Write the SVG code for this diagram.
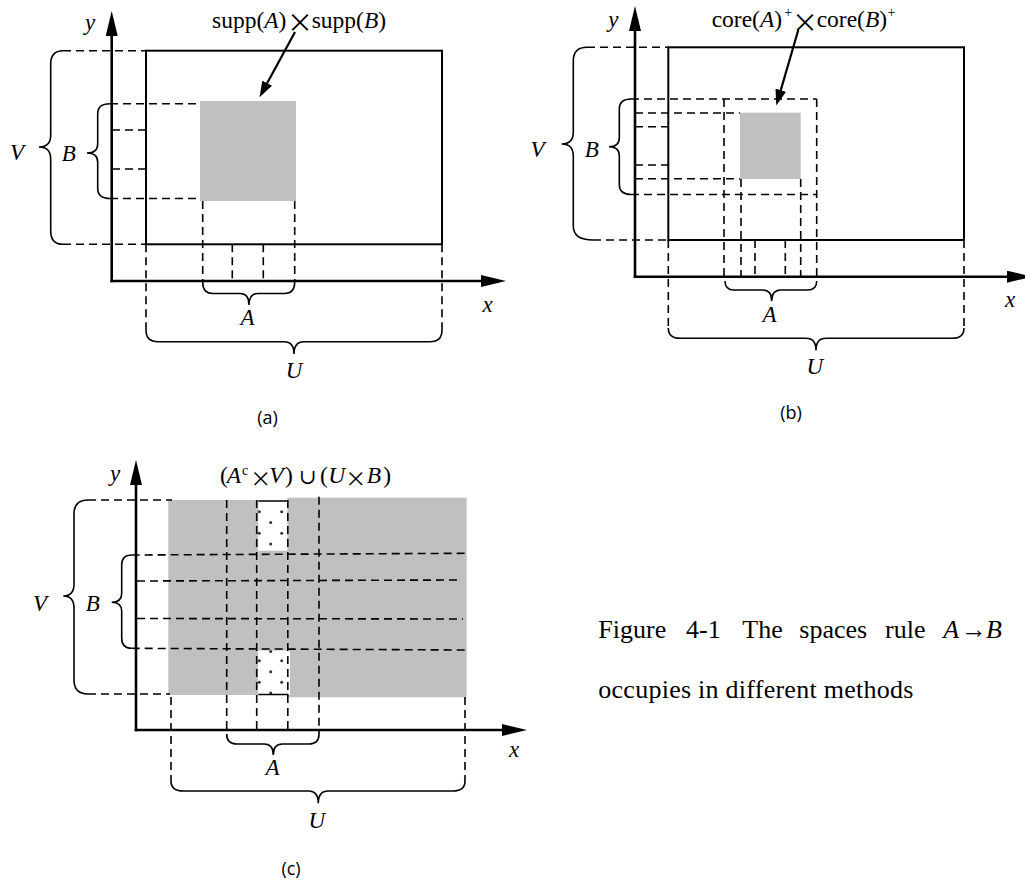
<svg xmlns="http://www.w3.org/2000/svg" width="1025" height="881" viewBox="0 0 1025 881">
<style>
.ax{stroke:#000;stroke-width:2.6;fill:none}
.bx{stroke:#000;stroke-width:2;fill:none}
.d{stroke:#000;stroke-width:1.6;fill:none;stroke-dasharray:8 5}
.br{stroke:#000;stroke-width:1.6;fill:none}
.sl{stroke:#000;stroke-width:1.6;fill:none}
.g{fill:#c0c0c0}
.w{fill:#fff}
.pt{stroke:#000;stroke-width:2.2;fill:none}
text{font-family:"Liberation Serif","Times New Roman",serif;fill:#000}
.l{font-size:23px;font-style:italic}
.t{font-size:23.5px}
.i{font-style:italic}
.sup{font-size:14px}
.mul{font-family:"Noto Sans CJK SC","Liberation Serif",sans-serif;font-size:26px}
.mul2{font-family:"Noto Sans CJK SC","Liberation Serif",sans-serif;font-size:21px}
.cup{font-family:"DejaVu Serif",serif;font-size:21px}
.sub{font-family:"Open Sans","Liberation Sans",sans-serif;font-size:18px}
.cap{font-size:26px}
.dot{fill:#333}
</style>
<defs>
<marker id="axh" viewBox="0 0 25 12" refX="1" refY="6" markerWidth="25" markerHeight="12" markerUnits="userSpaceOnUse" orient="auto"><path d="M0,0 L25,6 L0,12 z" fill="#000"/></marker>
<marker id="pth" viewBox="0 0 16 11" refX="1" refY="5.5" markerWidth="16" markerHeight="11" markerUnits="userSpaceOnUse" orient="auto"><path d="M0,0 L16,5.5 L0,11 z" fill="#000"/></marker>
</defs>
<rect width="1025" height="881" fill="#fff"/>

<g id="panel-a">
<rect class="g" x="200" y="101" width="96" height="100"/>
<rect class="bx" x="146" y="50.7" width="296" height="193.6"/>
<path class="d" d="M63,50.7 H146 M63,244.3 H146 M110,103.7 H200 M110,198.5 H200 M112,130 H146 M112,169 H146 M146,244.3 V330 M442,244.3 V330 M202.7,201 V282 M294.7,201 V282 M232.3,244.3 V281 M263.3,244.3 V281"/>
<path class="br" d="M63,50.7 Q50.7,50.7 50.7,64 L50.7,135 Q50.7,147 39,147 Q50.7,147 50.7,159 L50.7,231 Q50.7,244.3 63,244.3"/>
<path class="br" d="M110,103.7 Q97.7,103.7 97.7,113.7 L97.7,144 Q97.7,153 87,153 Q97.7,153 97.7,162 L97.7,188.5 Q97.7,198.5 110,198.5"/>
<path class="br" d="M202.7,282 Q202.7,293.5 212.7,293.5 L240,293.5 Q249,293.5 249,305 Q249,293.5 258,293.5 L284.7,293.5 Q294.7,293.5 294.7,282"/>
<path class="br" d="M146,330 Q146,341.7 158,341.7 L284,341.7 Q294,341.7 294,354 Q294,341.7 304,341.7 L430,341.7 Q442,341.7 442,330"/>
<path class="ax" d="M111.7,282.3 V35" marker-end="url(#axh)"/>
<path class="ax" d="M110.4,281 H482" marker-end="url(#axh)"/>
<path class="pt" d="M295,32 L266.7,84" marker-end="url(#pth)"/>
<text class="l" x="90" y="30" text-anchor="middle">y</text>
<text class="l" x="487.5" y="311.7" text-anchor="middle">x</text>
<text class="l" x="17" y="160" text-anchor="middle">V</text>
<text class="l" x="68.8" y="160.7" text-anchor="middle">B</text>
<text class="l" x="247.5" y="325" text-anchor="middle">A</text>
<text class="l" x="294" y="378" text-anchor="middle">U</text>
<text class="t" x="212" y="28">supp(<tspan class="i">A</tspan>)</text>
<text class="mul" x="300" y="32.4" text-anchor="middle">×</text>
<text class="t" x="311.7" y="28">supp(<tspan class="i">B</tspan>)</text>
<text class="sub" x="267.5" y="423.5" text-anchor="middle">(a)</text>
</g>

<g id="panel-b">
<rect class="g" x="740" y="112.7" width="60.7" height="66.3"/>
<rect class="bx" x="668.3" y="47.3" width="295.7" height="192.7"/>
<path class="d" d="M587,47.3 H668.3 M593,240 H668.3 M631,99 H816.7 M631,194.5 H816.7 M635,113 H740 M635,178.7 H740 M635,126.7 H668.3 M635,165 H668.3 M724,99 V281 M816.7,99 V281 M741,179 V277 M800.7,179 V277 M755,240 V277 M785.3,240 V277 M668.3,240 V328 M964,240 V328"/>
<path class="br" d="M587,47.3 Q573.3,47.3 573.3,61 L573.3,132 Q573.3,144 561.7,144 Q573.3,144 573.3,156 L573.3,226 Q573.3,240 593,240"/>
<path class="br" d="M631,99 Q619.3,99 619.3,109 L619.3,137.7 Q619.3,146.7 609,146.7 Q619.3,146.7 619.3,155.7 L619.3,184.5 Q619.3,194.5 631,194.5"/>
<path class="br" d="M725,281 Q725,290 734,290 L762.7,290 Q771.7,290 771.7,301 Q771.7,290 780.7,290 L807.7,290 Q816.7,290 816.7,281"/>
<path class="br" d="M668.3,328 Q668.3,338.3 680.3,338.3 L806,338.3 Q816,338.3 816,350.5 Q816,338.3 826,338.3 L952,338.3 Q964,338.3 964,328"/>
<path class="ax" d="M635,278 V30" marker-end="url(#axh)"/>
<path class="ax" d="M633.7,276.7 H1008" marker-end="url(#axh)"/>
<path class="pt" d="M798.3,30 L780.5,91.1" marker-end="url(#pth)"/>
<text class="l" x="613.3" y="27" text-anchor="middle">y</text>
<text class="l" x="1010" y="307.3" text-anchor="middle">x</text>
<text class="l" x="537.5" y="156.7" text-anchor="middle">V</text>
<text class="l" x="591.7" y="156.7" text-anchor="middle">B</text>
<text class="l" x="769.5" y="321.7" text-anchor="middle">A</text>
<text class="l" x="814.7" y="374" text-anchor="middle">U</text>
<text class="t" x="711.7" y="27.3">core(<tspan class="i">A</tspan>)</text>
<text class="sup" x="784.3" y="16.5">+</text>
<text class="mul" x="805" y="31.6" text-anchor="middle">×</text>
<text class="t" x="816.7" y="27.3">core(<tspan class="i">B</tspan>)</text>
<text class="sup" x="887.5" y="16.5">+</text>
<text class="sub" x="791" y="418.5" text-anchor="middle">(b)</text>
</g>

<g id="panel-c">
<rect class="g" x="168.3" y="500" width="90" height="195"/>
<rect class="g" x="258.3" y="550.7" width="29.5" height="100"/>
<rect class="g" x="287.3" y="497.7" width="179.4" height="199.6"/>
<rect class="w" x="258.3" y="650.7" width="31.7" height="44.3"/>
<g class="dot">
<circle cx="259.3" cy="511.7" r="1.5"/><circle cx="281.7" cy="511.7" r="1.5"/><circle cx="270.7" cy="522.5" r="1.5"/><circle cx="259.3" cy="533.3" r="1.5"/><circle cx="281.7" cy="533.3" r="1.5"/><circle cx="270.7" cy="544" r="1.5"/>
<circle cx="270.7" cy="651.5" r="1.5"/><circle cx="259.3" cy="660.8" r="1.5"/><circle cx="281.7" cy="660.8" r="1.5"/><circle cx="270.7" cy="671.7" r="1.5"/><circle cx="259.3" cy="682.3" r="1.5"/><circle cx="281.7" cy="682.3" r="1.5"/><circle cx="270.7" cy="693" r="1.5"/>
</g>
<path class="sl" d="M258.3,501 H287.3 M258.3,694.5 H288.5"/>
<path class="d" d="M88,500 H172 M88,694 H170 M131.7,555 L465,553.3 M137,581 L461.7,580 M137,618.5 L463,619 M131.7,648.3 L465,650 M226.7,500 V734 M256.7,500 V730 M287.8,500 V730 M319,496.7 V734 M171,697 V781 M465,697 V781"/>
<path class="br" d="M88,500 Q74,500 74,514 L74,584 Q74,596 63.3,596 Q74,596 74,608 L74,680 Q74,694 88,694"/>
<path class="br" d="M131.7,555 Q121.7,555 121.7,565 L121.7,593.3 Q121.7,602.3 111.7,602.3 Q121.7,602.3 121.7,611.3 L121.7,638.3 Q121.7,648.3 131.7,648.3"/>
<path class="br" d="M226.7,734 Q226.7,744 236.7,744 L264.3,744 Q273.3,744 273.3,755 Q273.3,744 282.3,744 L309,744 Q319,744 319,734"/>
<path class="br" d="M171,781 Q171,791 183,791 L308.3,791 Q318.3,791 318.3,803.3 Q318.3,791 328.3,791 L453,791 Q465,791 465,781"/>
<path class="ax" d="M136,731.3 V484" marker-end="url(#axh)"/>
<path class="ax" d="M134.7,730 H503" marker-end="url(#axh)"/>
<text class="l" x="115" y="481" text-anchor="middle">y</text>
<text class="l" x="514" y="756.7" text-anchor="middle">x</text>
<text class="l" x="40" y="610.7" text-anchor="middle">V</text>
<text class="l" x="92.7" y="610.7" text-anchor="middle">B</text>
<text class="l" x="272.5" y="775" text-anchor="middle">A</text>
<text class="l" x="316.7" y="828.3" text-anchor="middle">U</text>
<text class="t" y="482.5"><tspan x="220">(</tspan><tspan x="226.7" class="i">A</tspan><tspan x="242" y="475" class="sup">c</tspan></text>
<text class="mul2" x="260.8" y="485.5" text-anchor="middle">×</text>
<text class="t" y="482.5"><tspan x="269.3" class="i">V</tspan><tspan x="285">)</tspan></text>
<text class="cup" x="307.5" y="483.5" text-anchor="middle">∪</text>
<text class="t" y="482.5"><tspan x="320">(</tspan><tspan x="328.3" class="i">U</tspan></text>
<text class="mul2" x="355.8" y="485.5" text-anchor="middle">×</text>
<text class="t" y="482.5"><tspan x="366.7" class="i">B</tspan><tspan x="383.3">)</tspan></text>
<text class="sub" x="291" y="875.4" text-anchor="middle">(c)</text>
</g>

<g id="caption">
<text class="cap" y="638.3"><tspan x="598.3">Figure</tspan><tspan x="686">4-1</tspan><tspan x="742.3">The</tspan><tspan x="799.3">spaces</tspan><tspan x="885">rule</tspan><tspan x="943.3" class="i">A</tspan><tspan x="961">→</tspan><tspan x="986" class="i">B</tspan></text>
<text class="cap" x="598.3" y="698.3" textLength="315" lengthAdjust="spacing">occupies in different methods</text>
</g>
</svg>
